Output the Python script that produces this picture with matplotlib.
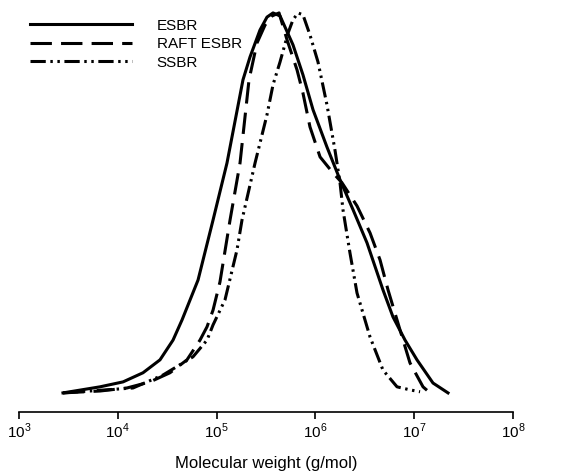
import matplotlib
matplotlib.use("Agg")
import matplotlib.pyplot as plt
import numpy as np

plt.rcParams["font.family"] = ["Liberation Sans", "DejaVu Sans"]
plt.rcParams["mathtext.fontset"] = "custom"
plt.rcParams["mathtext.rm"] = "Liberation Sans"

# log10(molecular weight) and normalised signal
esbr_logm = [3.445, 3.820, 4.053, 4.255, 4.427, 4.559, 4.650, 4.812, 4.964, 5.105,
             5.267, 5.338, 5.439, 5.510, 5.571, 5.642, 5.773, 5.874, 5.976, 6.117,
             6.249, 6.381, 6.522, 6.684, 6.785, 6.907, 7.028, 7.190, 7.342]
esbr_w = [0.0, 0.016, 0.029, 0.053, 0.087, 0.139, 0.192, 0.297, 0.455, 0.605,
          0.824, 0.884, 0.955, 0.989, 1.0, 0.992, 0.916, 0.837, 0.745, 0.647,
          0.561, 0.482, 0.395, 0.271, 0.200, 0.139, 0.087, 0.026, 0.0]

raft_logm = [3.445, 3.820, 4.093, 4.326, 4.528, 4.700, 4.832, 4.903, 4.964, 5.034,
             5.136, 5.237, 5.328, 5.409, 5.490, 5.561, 5.632, 5.713, 5.814, 5.874,
             5.945, 6.047, 6.178, 6.269, 6.421, 6.553, 6.654, 6.735, 6.856, 6.957,
             7.089, 7.160]
raft_w = [0.0, 0.005, 0.013, 0.029, 0.053, 0.087, 0.139, 0.174, 0.218, 0.292,
          0.455, 0.605, 0.824, 0.921, 0.968, 0.992, 1.0, 0.929, 0.850, 0.789,
          0.700, 0.621, 0.579, 0.553, 0.492, 0.421, 0.350, 0.271, 0.166, 0.079,
          0.016, 0.0]

ssbr_logm = [3.445, 4.154, 4.457, 4.761, 4.903, 4.964, 5.085, 5.206, 5.257, 5.389,
             5.510, 5.571, 5.642, 5.723, 5.773, 5.824, 5.874, 5.945, 6.026, 6.117,
             6.198, 6.249, 6.279, 6.350, 6.421, 6.553, 6.684, 6.826, 6.957, 7.059]
ssbr_w = [0.0, 0.013, 0.047, 0.095, 0.139, 0.179, 0.245, 0.376, 0.455, 0.605,
          0.732, 0.811, 0.871, 0.947, 0.982, 1.0, 0.995, 0.942, 0.871, 0.758,
          0.639, 0.553, 0.482, 0.368, 0.263, 0.147, 0.060, 0.016, 0.008, 0.003]

tick_exps = [3, 4, 5, 6, 7, 8]

fig = plt.figure(figsize=(5.81, 4.74), dpi=100)
ax = fig.add_axes([0.0327, 0.131, 0.8503, 0.869])

lw = 2.2
style = dict(color="black", lw=lw, solid_joinstyle="round", dash_joinstyle="round")
ax.plot(10 ** np.array(esbr_logm), esbr_w, label="ESBR", **style)
ax.plot(10 ** np.array(raft_logm), raft_w, dashes=(7, 3), label="RAFT ESBR", **style)
ax.plot(10 ** np.array(ssbr_logm), ssbr_w, dashes=(5, 1.5, 0.8, 1.5, 0.8, 1.5),
        label="SSBR", **style)

ax.set_xscale("log")
ax.set_xlim(1e3, 1e8)
ax.set_ylim(-0.05, 1.034)
ax.set_xticks([10.0 ** e for e in tick_exps])
ax.set_xticklabels([f"$10^{{{e}}}$" for e in tick_exps], fontsize=11)
ax.minorticks_off()
ax.tick_params(axis="x", direction="out", length=5, width=1.2, pad=2)
ax.set_yticks([])
for side in ["top", "right", "left"]:
    ax.spines[side].set_visible(False)
ax.spines["bottom"].set_linewidth(1.2)

ax.set_xlabel("Molecular weight (g/mol)", fontsize=12, labelpad=11)

ax.legend(loc="upper left", bbox_to_anchor=(0.022, 0.955), frameon=False,
          fontsize=11, handlelength=6.7, handletextpad=1.6, labelspacing=0.3,
          borderpad=0, borderaxespad=0)

fig.savefig("out.png", dpi=100)
